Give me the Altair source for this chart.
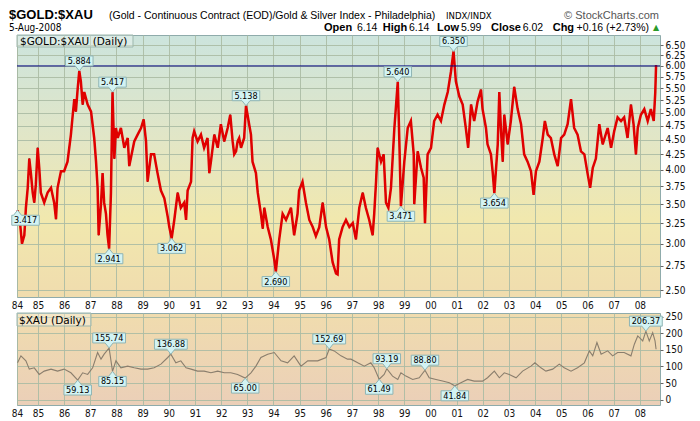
import altair as alt
import pandas as pd

# ---------------- data ----------------
ratio_years = [
    1984.22, 1984.32, 1984.39, 1984.48, 1984.54, 1984.61, 1984.67, 1984.73, 1984.80, 1984.86,
    1984.92, 1984.99, 1985.05, 1985.11, 1985.24, 1985.37, 1985.50, 1985.62, 1985.69, 1985.75,
    1985.88, 1986.00, 1986.13, 1986.26, 1986.33, 1986.39, 1986.45, 1986.52, 1986.58, 1986.64,
    1986.71, 1986.77, 1986.90, 1987.03, 1987.15, 1987.22, 1987.28, 1987.32, 1987.41, 1987.47,
    1987.53, 1987.60, 1987.66, 1987.72, 1987.79, 1987.85, 1987.92, 1987.98, 1988.05, 1988.17,
    1988.30, 1988.43, 1988.49, 1988.68, 1988.81, 1988.94, 1989.04, 1989.13, 1989.19, 1989.32,
    1989.44, 1989.57, 1989.70, 1989.83, 1989.96, 1990.02, 1990.11, 1990.21, 1990.34, 1990.46,
    1990.59, 1990.66, 1990.72, 1990.85, 1990.91, 1990.97, 1991.10, 1991.23, 1991.35, 1991.48,
    1991.55, 1991.61, 1991.74, 1991.87, 1991.99, 1992.12, 1992.25, 1992.35, 1992.44, 1992.50,
    1992.57, 1992.63, 1992.69, 1992.76, 1992.88, 1992.95, 1993.07, 1993.14, 1993.20, 1993.33,
    1993.40, 1993.52, 1993.59, 1993.65, 1993.78, 1993.90, 1994.03, 1994.09, 1994.22, 1994.35,
    1994.48, 1994.67, 1994.79, 1994.92, 1994.98, 1995.11, 1995.24, 1995.37, 1995.50, 1995.62,
    1995.75, 1995.88, 1996.01, 1996.13, 1996.26, 1996.39, 1996.45, 1996.51, 1996.64, 1996.77,
    1996.90, 1997.03, 1997.15, 1997.28, 1997.41, 1997.53, 1997.66, 1997.79, 1997.85, 1997.92,
    1997.98, 1998.11, 1998.21, 1998.30, 1998.39, 1998.49, 1998.62, 1998.75, 1998.81, 1998.87,
    1999.00, 1999.13, 1999.25, 1999.36, 1999.38, 1999.51, 1999.64, 1999.74, 1999.79, 1999.89,
    2000.02, 2000.14, 2000.27, 2000.40, 2000.53, 2000.66, 2000.78, 2000.88, 2000.97, 2001.10,
    2001.23, 2001.35, 2001.44, 2001.55, 2001.67, 2001.80, 2001.93, 2001.99, 2002.12, 2002.18,
    2002.31, 2002.38, 2002.44, 2002.57, 2002.63, 2002.69, 2002.76, 2002.82, 2002.95, 2003.07,
    2003.20, 2003.33, 2003.46, 2003.58, 2003.71, 2003.84, 2003.94, 2004.03, 2004.16, 2004.29,
    2004.37, 2004.48, 2004.60, 2004.73, 2004.86, 2004.99, 2005.11, 2005.24, 2005.37, 2005.49,
    2005.62, 2005.75, 2005.88, 2006.00, 2006.10, 2006.20, 2006.32, 2006.45, 2006.58, 2006.77,
    2006.90, 2007.02, 2007.15, 2007.28, 2007.40, 2007.53, 2007.66, 2007.76, 2007.85, 2007.92,
    2008.04, 2008.17, 2008.30, 2008.42, 2008.53, 2008.59, 2008.62,
]
ratio_values = [
    3.417, 3.24, 3.00, 3.10, 3.45, 3.73, 4.18, 3.95, 3.66, 3.52,
    3.78, 4.36, 4.03, 3.66, 3.52, 3.66, 3.73, 3.52, 3.30, 3.73,
    3.98, 3.98, 4.13, 4.59, 4.96, 5.27, 5.02, 5.50, 5.884, 5.65,
    5.16, 5.42, 5.16, 5.02, 4.53, 4.13, 3.73, 3.10, 3.50, 3.95,
    3.52, 3.37, 3.10, 2.941, 3.66, 5.417, 4.18, 4.71, 4.53, 4.71,
    4.36, 4.53, 4.06, 4.47, 4.59, 4.71, 4.87, 4.47, 3.82, 4.25,
    4.25, 3.95, 3.69, 3.58, 3.33, 3.20, 3.062, 3.29, 3.66, 3.45,
    3.52, 3.29, 3.69, 3.82, 4.53, 4.65, 4.47, 4.59, 4.36, 4.53,
    3.95, 4.13, 4.59, 4.36, 4.78, 4.47, 4.71, 4.96, 4.47, 4.25,
    4.30, 4.47, 4.53, 4.36, 4.53, 5.138, 4.78, 4.59, 4.13, 3.95,
    3.66, 3.37, 3.18, 3.45, 3.20, 3.05, 2.82, 2.690, 3.05, 3.37,
    3.29, 3.45, 3.10, 3.37, 3.69, 3.82, 3.52, 3.29, 3.20, 3.09,
    3.20, 3.52, 3.20, 3.05, 2.79, 2.67, 2.66, 3.05, 3.20, 3.29,
    3.20, 3.25, 3.05, 3.45, 3.66, 3.45, 3.29, 3.10, 3.37, 3.82,
    4.36, 4.13, 4.25, 3.52, 3.45, 3.73, 4.71, 5.640, 4.47, 3.471,
    4.13, 4.71, 4.84, 4.25, 3.50, 4.30, 4.03, 3.88, 3.25, 4.25,
    4.36, 4.84, 4.96, 4.84, 5.16, 5.42, 5.86, 6.350, 5.65, 5.33,
    5.16, 4.71, 4.36, 5.16, 4.84, 5.22, 5.47, 5.07, 4.71, 4.42,
    4.25, 3.95, 3.654, 4.42, 5.42, 4.71, 4.13, 4.96, 4.42, 4.84,
    5.53, 5.07, 4.78, 4.25, 4.13, 3.98, 3.63, 3.98, 4.13, 4.53,
    4.84, 4.59, 4.53, 4.25, 4.06, 4.53, 4.59, 4.78, 5.27, 4.71,
    4.59, 4.30, 4.25, 3.95, 3.73, 4.03, 4.18, 4.78, 4.42, 4.71,
    4.36, 4.65, 4.91, 4.84, 4.91, 4.53, 5.16, 4.78, 4.25, 4.71,
    4.96, 5.07, 4.84, 5.07, 4.84, 5.42, 6.02,
]

xau_years = [
    1984.22, 1984.35, 1984.54, 1984.67, 1984.86, 1985.05, 1985.24, 1985.50, 1985.75, 1986.00,
    1986.26, 1986.52, 1986.71, 1986.90, 1987.09, 1987.28, 1987.41, 1987.53, 1987.72, 1987.85,
    1987.98, 1988.17, 1988.43, 1988.68, 1988.94, 1989.19, 1989.44, 1989.70, 1989.96, 1990.08,
    1990.27, 1990.46, 1990.66, 1990.85, 1991.10, 1991.35, 1991.61, 1991.87, 1992.12, 1992.37,
    1992.63, 1992.92, 1993.14, 1993.33, 1993.52, 1993.78, 1994.03, 1994.29, 1994.54, 1994.79,
    1995.05, 1995.31, 1995.69, 1996.01, 1996.13, 1996.32, 1996.58, 1996.83, 1996.96, 1997.22,
    1997.47, 1997.72, 1997.85, 1998.04, 1998.23, 1998.33, 1998.55, 1998.75, 1998.87, 1999.06,
    1999.32, 1999.57, 1999.79, 1999.95, 2000.21, 2000.46, 2000.72, 2000.93, 2001.16, 2001.42,
    2001.67, 2001.99, 2002.18, 2002.44, 2002.63, 2002.82, 2003.01, 2003.27, 2003.52, 2003.84,
    2003.99, 2004.22, 2004.41, 2004.67, 2004.92, 2005.11, 2005.37, 2005.62, 2005.88, 2006.07,
    2006.20, 2006.36, 2006.52, 2006.77, 2006.96, 2007.15, 2007.40, 2007.66, 2007.79, 2007.92,
    2008.11, 2008.23, 2008.36, 2008.49, 2008.58, 2008.62,
]
xau_values = [
    111, 132, 117, 92, 96, 76, 86, 92, 86, 92,
    81, 59.13, 81, 76, 96, 142, 122, 137, 155.74, 85.15,
    117, 96, 101, 96, 92, 92, 96, 107, 127, 136.88,
    111, 117, 96, 92, 86, 86, 81, 86, 81, 81,
    76, 65.00, 81, 101, 127, 137, 142, 117, 111, 132,
    101, 117, 117, 127, 152.69, 147, 132, 122, 122, 111,
    101, 111, 96, 61.49, 76, 93.19, 71, 61, 81, 71,
    61, 66, 88.80, 66, 61, 56, 51, 41.84, 51, 61,
    56, 56, 66, 86, 66, 81, 76, 66, 86, 101,
    111, 96, 86, 92, 107, 96, 86, 96, 111, 147,
    132, 172, 137, 147, 132, 142, 142, 132, 167, 192,
    177, 206.37, 177, 202, 177, 152,
]

ratio_label_years = [1984.22, 1986.58, 1987.85, 1987.72, 1990.11, 1992.95,
                     1994.09, 1998.75, 1998.87, 2000.88, 2002.44]
ratio_label_values = [3.417, 5.884, 5.417, 2.941, 3.062, 5.138,
                      2.690, 5.640, 3.471, 6.350, 3.654]
ratio_label_sides = ["below", "above", "above", "below", "below", "above",
                     "below", "above", "below", "above", "below"]

xau_label_years = [1986.52, 1987.72, 1987.85, 1990.08, 1992.92, 1996.13,
                   1998.04, 1998.33, 1999.79, 2000.93, 2008.23]
xau_label_values = [59.13, 155.74, 85.15, 136.88, 65.00, 152.69,
                    61.49, 93.19, 88.80, 41.84, 206.37]
xau_label_sides = ["below", "above", "below", "above", "below", "above",
                   "below", "above", "above", "below", "above"]

year_ticks = [1984.2] + list(range(1985, 2009))
ratio_ticks = [2.50, 2.75, 3.00, 3.25, 3.50, 3.75, 4.00, 4.25, 4.50,
               4.75, 5.00, 5.25, 5.50, 5.75, 6.00, 6.25, 6.50]
xau_ticks = [0, 50, 100, 150, 200, 250]

header_title = "$GOLD:$XAU"
header_desc = "(Gold - Continuous Contract (EOD)/Gold & Silver Index - Philadelphia)"
header_exch = "INDX/INDX"
header_date = "5-Aug-2008"
header_credit = "\u00a9 StockCharts.com"
quote_labels = ["Open", "High", "Low", "Close", "Chg"]
quote_values = ["6.14", "6.14", "5.99", "6.02", "+0.16 (+2.73%)"]

# ---------------- layout ----------------
W = 643
H1 = 262
H2 = 92
BASE_FONT = "DejaVu Sans"
AXIS_FONT = "DejaVu Sans Condensed"
HEAD_FONT = "Liberation Sans"

xscale = alt.Scale(domain=[1984.2, 2008.77], nice=False, zero=False)
label_expr = "(floor(datum.value) % 100 < 10 ? '0' : '') + (floor(datum.value) % 100)"


def x_axis():
    return alt.Axis(values=year_ticks, tickCount=60, labelExpr=label_expr, grid=True,
                    ticks=False, domain=False, title=None, labelPadding=3,
                    labelFlush=False, labelOverlap=False, labelSeparation=0)


def callout_path(width, side, shift=0):
    h = width / 2.0
    if side == "above":
        return f"M{shift - h},-15H{shift + h}V-5H4L0,0L-4,-5H{shift - h}Z"
    return f"M{shift - h},15H{shift + h}V5H4L0,0L-4,5H{shift - h}Z"


def label_layers(years, values, sides, fmt, yscale, shift_first=0):
    texts = [fmt % v for v in values]
    df = pd.DataFrame({"year": years, "value": values, "side": sides, "label": texts})
    df["shift"] = 0
    if shift_first:
        df.loc[0, "shift"] = shift_first
    df["shape"] = [callout_path(5.3 * len(t) + 1, s, sh)
                   for t, s, sh in zip(df["label"], df["side"], df["shift"])]
    enc = dict(x=alt.X("year:Q", scale=xscale),
               y=alt.Y("value:Q", scale=yscale))
    boxes = alt.Chart(df).mark_point(
        filled=True, fill="#d3f3f3", stroke="#8fb5b5", strokeWidth=1,
        opacity=1, size=4
    ).encode(shape=alt.Shape("shape:N", scale=None, legend=None), **enc)
    layers = [boxes]
    for side, dy in (("above", -10), ("below", 10)):
        for sh in sorted(set(df["shift"])):
            sub = df[(df["side"] == side) & (df["shift"] == sh)]
            if len(sub) == 0:
                continue
            layers.append(alt.Chart(sub).mark_text(
                font=AXIS_FONT, fontSize=9, color="#000", dy=dy, dx=float(sh),
                baseline="middle", align="center"
            ).encode(text="label:N", **enc))
    return layers


def txt(s, x, y, size=11, font=HEAD_FONT, weight="normal", color="#000", align="left"):
    return alt.Chart(alt.Data(values=[{}])).mark_text(
        text=s, font=font, fontSize=size, fontWeight=weight, color=color,
        align=align, baseline="alphabetic"
    ).encode(x=alt.value(x), y=alt.value(y))


def panel_box(x2, y2):
    return alt.Chart(alt.Data(values=[{}])).mark_rect(
        fill="#ffffff", fillOpacity=0.3, stroke="#9db7ad", strokeWidth=1
    ).encode(x=alt.value(0), x2=alt.value(x2), y=alt.value(0), y2=alt.value(y2))


top_grad = ("{gradient: 'linear', x1: 0, y1: 0, x2: 0, y2: 1, stops: ["
            "{offset: 0, color: '#cce4dd'}, {offset: 0.4, color: '#e2e6c6'},"
            "{offset: 0.7, color: '#f1e8ae'}, {offset: 1, color: '#f0dcae'}]}")
bot_grad = ("{gradient: 'linear', x1: 0, y1: 0, x2: 0, y2: 1, stops: ["
            "{offset: 0, color: '#f0dcae'}, {offset: 1, color: '#ebcfb8'}]}")

# ---------------- top panel ----------------
ratio_df = pd.DataFrame({"year": ratio_years, "value": ratio_values})
yscale_top = alt.Scale(type="log", domain=[2.436, 6.77], nice=False)

ratio_black = alt.Chart(ratio_df).mark_line(color="#000", strokeWidth=1).encode(
    x=alt.X("year:Q", scale=xscale, axis=x_axis()),
    y=alt.Y("value:Q", scale=yscale_top,
            axis=alt.Axis(orient="right", values=ratio_ticks, tickCount=60, format=".2f",
                          grid=True, tickSize=3, title=None, labelPadding=2,
                          labelFlush=False, labelOverlap=False)),
)
ratio_line = alt.Chart(ratio_df).mark_line(color="#e00000", strokeWidth=2.5).encode(
    x=alt.X("year:Q", scale=xscale),
    y=alt.Y("value:Q", scale=yscale_top),
)

rule6 = alt.Chart(alt.Data(values=[{}])).mark_rule(color="#000080", strokeWidth=1).encode(
    y=alt.datum(6.0))

header = [
    txt(header_title, -8, -16, size=13, weight="bold"),
    txt(header_desc, 92, -16, size=10.5),
    txt(header_exch, 429, -16, size=9.5, font=AXIS_FONT),
    txt(header_credit, 642, -16, size=11, color="#555", align="right"),
    txt(header_date, -8, -4.5, size=10, font=AXIS_FONT),
]
q_label_x = [307, 365.7, 420, 474, 535.7]
q_value_x = [340, 392, 444, 505.7, None]
for lab, val, lx, vx in zip(quote_labels, quote_values, q_label_x, q_value_x):
    header.append(txt(lab, lx, -4, size=11, weight="bold"))
    if vx is None:
        header.append(txt(val, 632, -4, size=10.5, align="right"))
    else:
        header.append(txt(val, vx, -4, size=10.5))
header.append(txt("\u25b2", 639, -5, size=8, font=BASE_FONT, color="#2a9a2a", align="center"))

top = alt.layer(
    ratio_black, ratio_line, rule6,
    *label_layers(ratio_label_years, ratio_label_values, ratio_label_sides, "%.3f",
                  yscale_top, shift_first=8),
    panel_box(116, 12),
    txt("$GOLD:$XAU (Daily)", 3, 10, size=10.5, font=BASE_FONT),
    *header,
).properties(
    width=W, height=H1,
    view=alt.ViewBackground(fill={"expr": top_grad}, stroke="#8fabab", strokeWidth=1),
)

# ---------------- bottom panel ----------------
xau_df = pd.DataFrame({"year": xau_years, "value": xau_values})
yscale_bot = alt.Scale(domain=[-16, 261], nice=False, zero=False)

xau_line = alt.Chart(xau_df).mark_line(color="#8a7e6d", strokeWidth=1.1).encode(
    x=alt.X("year:Q", scale=xscale, axis=x_axis()),
    y=alt.Y("value:Q", scale=yscale_bot,
            axis=alt.Axis(orient="right", values=xau_ticks, tickCount=60, format="d",
                          grid=True, tickSize=3, title=None, labelPadding=2,
                          labelFlush=False, labelOverlap=False)),
)

bottom = alt.layer(
    xau_line,
    *label_layers(xau_label_years, xau_label_values, xau_label_sides, "%.2f", yscale_bot),
    panel_box(74, 13),
    txt("$XAU (Daily)", 2, 10.5, size=10.5, font=BASE_FONT),
).properties(
    width=W, height=H2,
    view=alt.ViewBackground(fill={"expr": bot_grad}, stroke="#8fabab", strokeWidth=1),
)

chart = alt.vconcat(top, bottom, spacing=16, bounds="flush").properties(
    padding=0, background="white"
).configure_axis(
    labelFont=AXIS_FONT, labelFontSize=10, labelColor="#111", labelOverlap=False,
    gridColor="#abbba4", gridOpacity=0.9, gridWidth=1, tickColor="#666", domain=False,
)

chart.save("out.html", embed_options={"renderer": "svg", "actions": False})
